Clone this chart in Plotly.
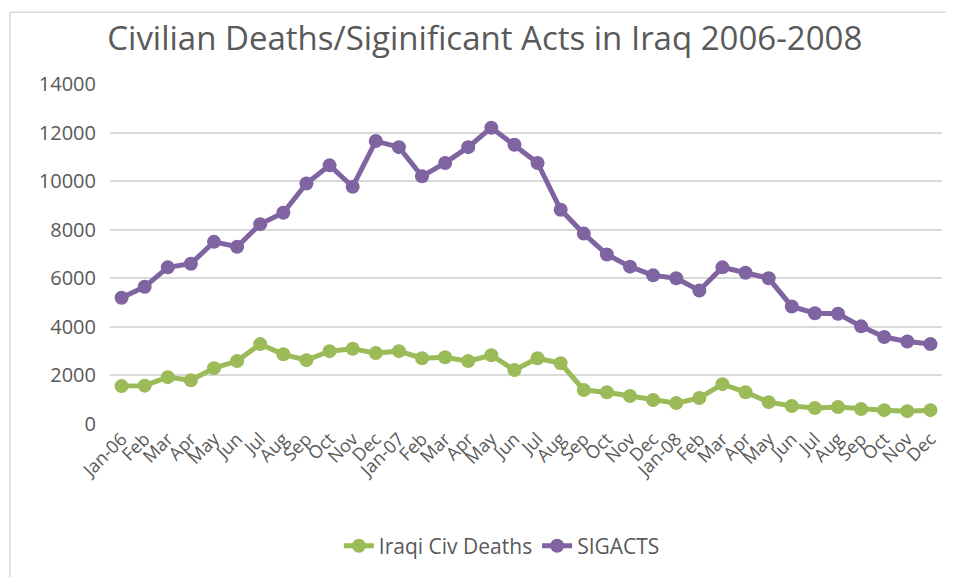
import plotly.graph_objects as go

months = ["Jan-06","Feb","Mar","Apr","May","Jun","Jul","Aug","Sep","Oct","Nov","Dec",
          "Jan-07","Feb","Mar","Apr","May","Jun","Jul","Aug","Sep","Oct","Nov","Dec",
          "Jan-08","Feb","Mar","Apr","May","Jun","Jul","Aug","Sep","Oct","Nov","Dec"]

civ_deaths = [1560, 1580, 1930, 1800, 2300, 2590, 3290, 2870, 2630, 3000, 3100, 2920,
              3000, 2710, 2750, 2590, 2830, 2220, 2710, 2500, 1400, 1310, 1150, 990,
              860, 1070, 1640, 1310, 900, 740, 660, 700, 620, 570, 530, 570]

sigacts = [5200, 5650, 6450, 6600, 7500, 7300, 8230, 8700, 9900, 10650, 9770, 11650,
           11400, 10200, 10750, 11400, 12200, 11500, 10750, 8820, 7840, 6980, 6480, 6120,
           6000, 5500, 6450, 6230, 6000, 4840, 4560, 4540, 4020, 3580, 3400, 3290]

x_idx = list(range(len(months)))

fig = go.Figure()
fig.add_trace(go.Scatter(x=x_idx, y=civ_deaths, name="Iraqi Civ Deaths",
                         mode="lines+markers",
                         line=dict(color="#9BBB59", width=5),
                         marker=dict(color="#9BBB59", size=14)))
fig.add_trace(go.Scatter(x=x_idx, y=sigacts, name="SIGACTS",
                         mode="lines+markers",
                         line=dict(color="#8064A2", width=5),
                         marker=dict(color="#8064A2", size=14)))

fig.update_layout(
    width=946, height=569,
    margin=dict(l=102, r=12, t=76, b=152),
    paper_bgcolor="white", plot_bgcolor="white",
    font=dict(family="Open Sans, Noto Sans, sans-serif", color="#595959", size=18),
    title=dict(text="Civilian Deaths/Siginificant Acts in Iraq 2006-2008",
               x=0.504, xanchor="center", y=0.947, yanchor="middle",
               font=dict(size=33, color="#595959")),
    xaxis=dict(tickmode="array", tickvals=x_idx, ticktext=months,
               range=[-0.5, 35.5], tickangle=-45, showgrid=False,
               showline=False, zeroline=False, ticks="", automargin=False,
               tickfont=dict(size=18, color="#595959")),
    yaxis=dict(range=[0, 14000], dtick=2000, tickformat="d", showgrid=True,
               gridcolor="#d9d9d9", gridwidth=1.5, zeroline=False, showline=False,
               ticks="", automargin=False,
               tickfont=dict(size=20, color="#595959"), ticklabelstandoff=13),
    legend=dict(orientation="h", x=0.471, xanchor="center", y=-0.355, yanchor="middle",
                font=dict(size=21, color="#595959"), itemwidth=30),
    showlegend=True,
)

fig.add_shape(type="rect", xref="paper", yref="paper",
              x0=-0.1202, x1=1.3, y0=-0.8, y1=1.211,
              line=dict(color="#d9d9d9", width=1.5), fillcolor="rgba(0,0,0,0)",
              layer="below")

fig.write_html("out.html")
